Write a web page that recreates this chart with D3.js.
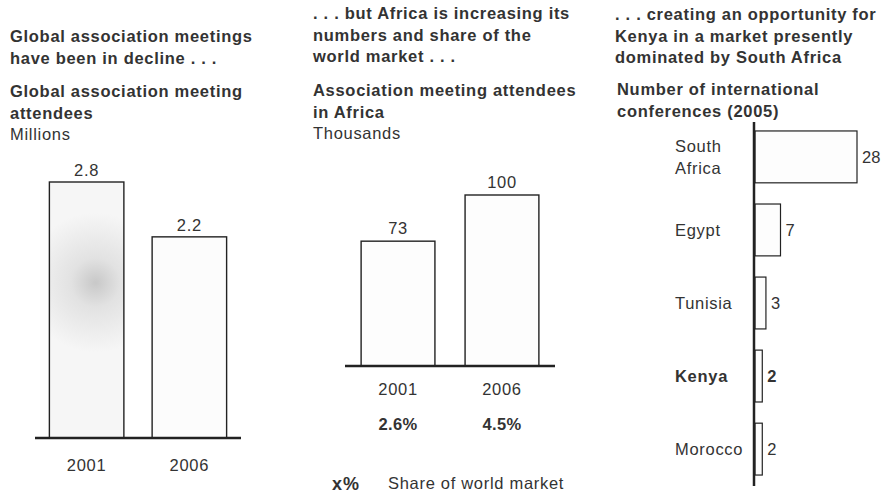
<!DOCTYPE html>
<html>
<head>
<meta charset="utf-8">
<script src="https://cdn.jsdelivr.net/npm/d3@7"></script>
<style>
  body { margin: 0; background: #fff; }
  svg text { font-family: "Liberation Sans", Arial, sans-serif; fill: #333; }
</style>
</head>
<body>
<svg id="chart" width="881" height="495"></svg>
<script>

// panel 1 - global attendees (millions)
var globalYears = ["2001", "2006"];
var globalValues = [2.8, 2.2];

// panel 2 - attendees in Africa (thousands)
var africaYears = ["2001", "2006"];
var africaValues = [73, 100];
var africaShare = ["2.6%", "4.5%"];

// panel 3 - international conferences 2005
var countries = ["South Africa", "Egypt", "Tunisia", "Kenya", "Morocco"];
var conferences = [28, 7, 3, 2, 2];

var svg = d3.select("#chart");
var fs = 16.5, ls = "0.7px";

function textLines(x, y, lines, weight, lh) {
	lines.forEach(function(t, i) {
		svg.append("text")
			.attr("x", x)
			.attr("y", y + i * lh)
			.style("font-size", fs + "px")
			.style("font-weight", weight)
			.style("letter-spacing", ls)
			.text(t);
	});
}

// headings
textLines(10, 42, ["Global association meetings", "have been in decline . . ."], "bold", 21.5);
textLines(10, 97, ["Global association meeting", "attendees"], "bold", 21.5);
textLines(10, 140, ["Millions"], "normal", 0);

textLines(313, 19, [". . . but Africa is increasing its", "numbers and share of the", "world market . . ."], "bold", 21.5);
textLines(313, 96, ["Association meeting attendees", "in Africa"], "bold", 21.5);
textLines(313, 139, ["Thousands"], "normal", 0);

textLines(615, 20, [". . . creating an opportunity for", "Kenya in a market presently", "dominated by South Africa"], "bold", 21.5);
textLines(617, 95, ["Number of international", "conferences (2005)"], "bold", 21.5);

function barLabel(sel) {
	return sel.attr("text-anchor", "middle")
		.style("font-size", fs + "px")
		.style("letter-spacing", ls);
}

// ---------- panel 1 ----------
var x1 = d3.scaleBand()
	.domain(globalYears)
	.range([35, 241])
	.paddingInner(0.275)
	.paddingOuter(0.14);

var y1 = d3.scaleLinear()
	.domain([0, 2.8])
	.range([438, 182]);

// grey smudge on the scanned first bar
var grad = svg.append("defs").append("radialGradient")
	.attr("id", "smudge")
	.attr("gradientUnits", "userSpaceOnUse")
	.attr("cx", x1("2001") + x1.bandwidth() * 0.62)
	.attr("cy", y1(1.7))
	.attr("r", 70);
grad.append("stop").attr("offset", "0").attr("stop-color", "#c8c8c8");
grad.append("stop").attr("offset", "0.35").attr("stop-color", "#e2e2e2");
grad.append("stop").attr("offset", "1").attr("stop-color", "#f6f6f6");

var g1 = svg.append("g");

g1.selectAll("rect")
	.data(globalValues)
	.enter().append("rect")
	.attr("x", function(d, i) { return x1(globalYears[i]); })
	.attr("y", function(d) { return y1(d); })
	.attr("width", x1.bandwidth())
	.attr("height", function(d) { return y1(0) - y1(d); })
	.attr("fill", function(d, i) { return i == 0 ? "url(#smudge)" : "#fcfcfc"; })
	.attr("stroke", "#222")
	.attr("stroke-width", 1.4);

barLabel(g1.selectAll(".val")
	.data(globalValues)
	.enter().append("text")
	.attr("x", function(d, i) { return x1(globalYears[i]) + x1.bandwidth() / 2; })
	.attr("y", function(d) { return y1(d) - 6; }))
	.text(function(d) { return d.toFixed(1); });

g1.append("line")
	.attr("x1", 35).attr("x2", 241)
	.attr("y1", y1(0)).attr("y2", y1(0))
	.attr("stroke", "#222")
	.attr("stroke-width", 2.5);

barLabel(g1.selectAll(".yr")
	.data(globalYears)
	.enter().append("text")
	.attr("x", function(d) { return x1(d) + x1.bandwidth() / 2; })
	.attr("y", y1(0) + 33))
	.text(function(d) { return d; });

// ---------- panel 2 ----------
var x2 = d3.scaleBand()
	.domain(africaYears)
	.range([345, 555])
	.paddingInner(0.29)
	.paddingOuter(0.155);

var y2 = d3.scaleLinear()
	.domain([0, 100])
	.range([366, 195]);

var g2 = svg.append("g");

g2.selectAll("rect")
	.data(africaValues)
	.enter().append("rect")
	.attr("x", function(d, i) { return x2(africaYears[i]); })
	.attr("y", function(d) { return y2(d); })
	.attr("width", x2.bandwidth())
	.attr("height", function(d) { return y2(0) - y2(d); })
	.attr("fill", "#fdfdfd")
	.attr("stroke", "#222")
	.attr("stroke-width", 1.4);

barLabel(g2.selectAll(".val")
	.data(africaValues)
	.enter().append("text")
	.attr("x", function(d, i) { return x2(africaYears[i]) + x2.bandwidth() / 2; })
	.attr("y", function(d) { return y2(d) - 7; }))
	.text(function(d) { return d; });

g2.append("line")
	.attr("x1", 345).attr("x2", 555)
	.attr("y1", y2(0)).attr("y2", y2(0))
	.attr("stroke", "#222")
	.attr("stroke-width", 2.5);

barLabel(g2.selectAll(".yr")
	.data(africaYears)
	.enter().append("text")
	.attr("x", function(d) { return x2(d) + x2.bandwidth() / 2; })
	.attr("y", y2(0) + 29))
	.text(function(d) { return d; });

barLabel(g2.selectAll(".share")
	.data(africaShare)
	.enter().append("text")
	.attr("x", function(d, i) { return x2(africaYears[i]) + x2.bandwidth() / 2; })
	.attr("y", y2(0) + 64))
	.style("font-weight", "bold")
	.style("letter-spacing", "0.3px")
	.text(function(d) { return d; });

g2.append("text")
	.attr("x", 332).attr("y", 490)
	.style("font-size", "18px")
	.style("font-weight", "bold")
	.style("letter-spacing", "1px")
	.text("x%");
g2.append("text")
	.attr("x", 388).attr("y", 489)
	.style("font-size", fs + "px")
	.style("letter-spacing", ls)
	.text("Share of world market");

// ---------- panel 3 ----------
var y3 = d3.scaleBand()
	.domain(countries)
	.range([120, 486])
	.paddingInner(0.29)
	.paddingOuter(0.15);

var x3 = d3.scaleLinear()
	.domain([0, 28])
	.range([755, 857]);

var g3 = svg.append("g");

g3.selectAll("rect")
	.data(conferences)
	.enter().append("rect")
	.attr("x", x3(0))
	.attr("y", function(d, i) { return y3(countries[i]); })
	.attr("width", function(d) { return x3(d) - x3(0); })
	.attr("height", y3.bandwidth())
	.attr("fill", "#fdfdfd")
	.attr("stroke", "#222")
	.attr("stroke-width", 1.2);

g3.selectAll(".val")
	.data(conferences)
	.enter().append("text")
	.attr("x", function(d) { return x3(d) + 5; })
	.attr("y", function(d, i) { return y3(countries[i]) + y3.bandwidth() / 2 + 6; })
	.style("font-size", fs + "px")
	.style("font-weight", function(d, i) { return countries[i] == "Kenya" ? "bold" : "normal"; })
	.text(function(d) { return d; });

g3.selectAll(".name")
	.data(countries)
	.enter().append("text")
	.attr("x", 675)
	.attr("y", function(d) { return y3(d) + y3.bandwidth() / 2 + 6; })
	.style("font-size", fs + "px")
	.style("letter-spacing", ls)
	.style("font-weight", function(d) { return d == "Kenya" ? "bold" : "normal"; })
	.each(function(d) {
		var words = d.split(" ");
		var t = d3.select(this);
		if (words.length > 1) {
			t.attr("y", y3(d) + y3.bandwidth() / 2 - 5);
			words.forEach(function(w, i) {
				t.append("tspan").attr("x", 675).attr("dy", i == 0 ? 0 : 22).text(w);
			});
		} else {
			t.text(d);
		}
	});

g3.append("line")
	.attr("x1", 754).attr("x2", 754)
	.attr("y1", 122).attr("y2", 486)
	.attr("stroke", "#222")
	.attr("stroke-width", 2.5);

</script>
</body>
</html>
